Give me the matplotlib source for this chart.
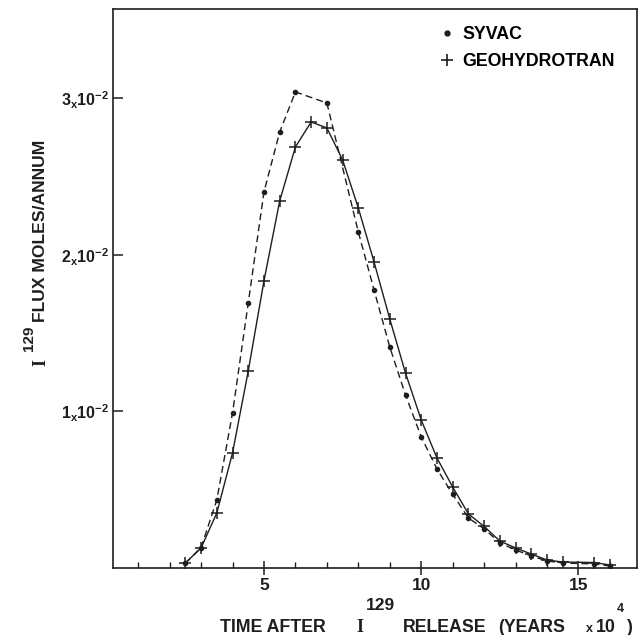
import matplotlib
matplotlib.use("Agg")
import matplotlib.pyplot as plt
from matplotlib.lines import Line2D
from matplotlib.ticker import FixedLocator, FuncFormatter

plt.rcParams['font.family'] = ['Liberation Sans', 'DejaVu Sans']
plt.rcParams['font.weight'] = 'bold'
plt.rcParams['mathtext.fontset'] = 'custom'
plt.rcParams['mathtext.rm'] = 'Liberation Sans:bold'
plt.rcParams['mathtext.sf'] = 'Liberation Sans:bold'
plt.rcParams['mathtext.it'] = 'Liberation Sans:bold'
plt.rcParams['mathtext.bf'] = 'Liberation Sans:bold'

# ---- data (flux in units of 1e-2 moles/annum, time in 1e4 years) ----
geo_t = [2.5, 3.0, 3.5, 4.0, 4.5, 5.0, 5.5, 6.0, 6.5, 7.0, 7.5, 8.0, 8.5, 9.0,
         9.5, 10.0, 10.5, 11.0, 11.5, 12.0, 12.5, 13.0, 13.5, 14.0, 14.5,
         15.5, 16.0]
geo_flux = [0.032, 0.128, 0.351, 0.734, 1.257, 1.832, 2.342, 2.687, 2.846,
            2.808, 2.604, 2.297, 1.953, 1.589, 1.244, 0.944, 0.702, 0.517,
            0.345, 0.265, 0.172, 0.128, 0.089, 0.051, 0.038, 0.035, 0.019]

syvac_t = [2.5, 3.0, 3.5, 4.0, 4.5, 5.0, 5.5, 6.0, 7.0, 8.0, 8.5, 9.0, 9.5,
           10.0, 10.5, 11.0, 11.5, 12.0, 12.5, 13.0, 13.5, 14.0, 14.5, 15.5,
           16.0]
syvac_flux = [0.030, 0.130, 0.434, 0.989, 1.691, 2.400, 2.782, 3.038, 2.967,
              2.144, 1.774, 1.410, 1.104, 0.836, 0.632, 0.470, 0.319, 0.250,
              0.160, 0.115, 0.077, 0.045, 0.032, 0.026, 0.013]

series_labels = ['SYVAC', 'GEOHYDROTRAN']
x_major = [5, 10, 15]
x_minor = [1, 2, 3, 4, 6, 7, 8, 9, 11, 12, 13, 14, 16]
y_ticks = [1, 2, 3]

W, H = 641, 635
fig = plt.figure(figsize=(W / 100, H / 100), dpi=100)
ax = fig.add_axes([113 / W, 1 - 568 / H, 524 / W, 559 / H])

ink = '#1e1e1e'
ax.plot(geo_t, geo_flux, color=ink, lw=1.0, marker='+', ms=8, mew=1.1,
        zorder=3)
ax.plot(syvac_t, syvac_flux, color=ink, lw=1.0, ls=(0, (5, 3)), marker='o',
        ms=3, zorder=2)

ax.set_xlim(0.2, 16.86)
ax.set_ylim(0, 3.567)

for s in ax.spines.values():
    s.set_linewidth(1.2)
    s.set_color(ink)

ax.xaxis.set_major_locator(FixedLocator(x_major))
ax.xaxis.set_minor_locator(FixedLocator(x_minor))
ax.yaxis.set_major_locator(FixedLocator(y_ticks))
ax.yaxis.set_minor_locator(FixedLocator([]))
ax.yaxis.set_major_formatter(FuncFormatter(
    lambda v, p: r'$\mathsf{%d}_{\mathsf{x}}\mathsf{10}^{\mathsf{-2}}$' % round(v)))
ax.tick_params(axis='x', which='major', direction='inout', length=10,
               width=1.1, labelsize=12.5, pad=2, colors=ink)
ax.tick_params(axis='x', which='minor', direction='in', length=4, width=1.0,
               colors=ink)
ax.tick_params(axis='y', which='major', direction='in', length=7, width=1.1,
               labelsize=11.5, pad=3, colors=ink)

handles = [Line2D([], [], color=ink, marker='o', ls='none', ms=3.5),
           Line2D([], [], color=ink, marker='+', ls='none', ms=8, mew=1.2)]
ax.legend(handles, series_labels, loc='upper left',
          bbox_to_anchor=((440 - 113) / 524, (568 - 26) / 559),
          frameon=False, fontsize=12.8, handlelength=0.8, handletextpad=0.45,
          labelspacing=0.55, borderpad=0, borderaxespad=0)


def ft(px, py, s, **kw):
    fig.text(px / W, 1 - py / H, s, color=ink, fontweight='bold', **kw)


# x axis label (pieces)
ft(220, 632, 'TIME AFTER', fontsize=12.8, va='baseline')
ft(356, 632, 'I', fontsize=13, va='baseline', family='Liberation Serif')
ft(366, 610, '129', fontsize=12.5, va='baseline')
ft(403, 632, 'RELEASE', fontsize=12.8, va='baseline')
ft(498, 632, '(YEARS', fontsize=12.8, va='baseline')
ft(586, 632, 'x', fontsize=9, va='baseline')
ft(596, 632, '10', fontsize=12.8, va='baseline')
ft(617, 612, '4', fontsize=9, va='baseline')
ft(627, 632, ')', fontsize=12.8, va='baseline')

# y axis label (pieces, rotated)
rk = dict(rotation=90, rotation_mode='anchor', ha='left', va='baseline')
ft(45, 366, 'I', fontsize=13, family='Liberation Serif', **rk)
ft(33, 351, '129', fontsize=11, **rk)
ft(45, 322, 'FLUX MOLES/ANNUM', fontsize=12.6, **rk)

fig.savefig('out.png', dpi=100)
